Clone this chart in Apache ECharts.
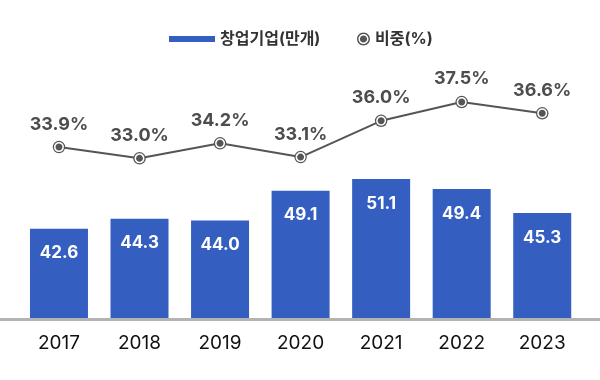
<!DOCTYPE html>
<html>
<head>
<meta charset="utf-8">
<script src="https://cdn.jsdelivr.net/npm/echarts@6/dist/echarts.min.js"></script>
<style>
html,body{margin:0;padding:0;background:#fff;}
#chart{width:600px;height:380px;}
</style>
</head>
<body>
<div id="chart"></div>
<script>
const years = ['2017', '2018', '2019', '2020', '2021', '2022', '2023'];
const startups = [42.6, 44.3, 44.0, 49.1, 51.1, 49.4, 45.3];
const shares = [33.9, 33.0, 34.2, 33.1, 36.0, 37.5, 36.6];
const barName = '창업기업(만개)';
const lineName = '비중(%)';

// circle drawn with cubic beziers (cw or ccw) for a ring-shaped legend icon
function circ(r, cw) {
  const k = 0.5523 * r;
  if (cw) {
    return `M0 ${-r}C${k} ${-r} ${r} ${-k} ${r} 0C${r} ${k} ${k} ${r} 0 ${r}C${-k} ${r} ${-r} ${k} ${-r} 0C${-r} ${-k} ${-k} ${-r} 0 ${-r}Z`;
  }
  return `M0 ${-r}C${-k} ${-r} ${-r} ${-k} ${-r} 0C${-r} ${k} ${-k} ${r} 0 ${r}C${k} ${r} ${r} ${k} ${r} 0C${r} ${-k} ${k} ${-r} 0 ${-r}Z`;
}
const ringIcon = 'path://' + circ(6.5, true) + circ(5, false) + circ(3.6, true);

const legendFont = {fontFamily: 'Inter, "Noto Sans CJK KR"', fontSize: 16, fontWeight: 'bold', color: '#333'};

const chart = echarts.init(document.getElementById('chart'), null, {renderer: 'canvas'});
chart.setOption({
  animation: false,
  backgroundColor: '#fff',
  legend: [
    {
      data: [{name: barName, icon: 'rect'}],
      left: 164, top: 26,
      itemWidth: 46, itemHeight: 6,
      textStyle: legendFont,
      selectedMode: false
    },
    {
      data: [{name: lineName, icon: ringIcon, itemStyle: {color: '#555', borderWidth: 0}}],
      left: 352, top: 26,
      itemWidth: 13, itemHeight: 13,
      textStyle: legendFont,
      selectedMode: false
    }
  ],
  grid: {left: 18.7, right: 17.5, top: 40, bottom: 60.5, containLabel: false},
  xAxis: {
    type: 'category',
    data: years,
    axisLine: {show: false},
    axisTick: {show: false},
    axisLabel: {fontFamily: 'Inter', fontSize: 19, color: '#111', margin: 14}
  },
  yAxis: [
    {type: 'value', min: 27.06, max: 74.9, show: false},
    {type: 'value', min: 20.12, max: 42.46, show: false}
  ],
  graphic: [{
    type: 'line', z: 100,
    shape: {x1: 0, y1: 319.5, x2: 600, y2: 319.5},
    style: {stroke: '#b3b3b3', lineWidth: 3}
  }],
  series: [
    {
      name: barName, type: 'bar', data: startups, barWidth: 58,
      itemStyle: {color: '#345fc1'},
      label: {
        show: true, position: 'insideTop', distance: 16,
        fontFamily: 'Inter', fontSize: 17, fontWeight: 'bold', color: '#fff',
        formatter: p => p.value.toFixed(1)
      }
    },
    {
      name: '_ring', type: 'line', yAxisIndex: 1, data: shares,
      symbol: 'circle', symbolSize: 12.5, showAllSymbol: true,
      itemStyle: {color: '#555'},
      lineStyle: {width: 0, opacity: 0},
      silent: true, z: 3
    },
    {
      name: lineName, type: 'line', yAxisIndex: 1, data: shares,
      symbol: 'circle', symbolSize: 8.5, showAllSymbol: true,
      itemStyle: {color: '#555', borderColor: '#fff', borderWidth: 1.5},
      lineStyle: {color: '#555', width: 2},
      z: 4,
      label: {
        show: true, position: 'top', distance: 9,
        fontFamily: 'Inter', fontSize: 18, fontWeight: 'bold', color: '#4d4d4d',
        formatter: p => p.value.toFixed(1) + '%'
      }
    }
  ]
});
</script>
</body>
</html>
